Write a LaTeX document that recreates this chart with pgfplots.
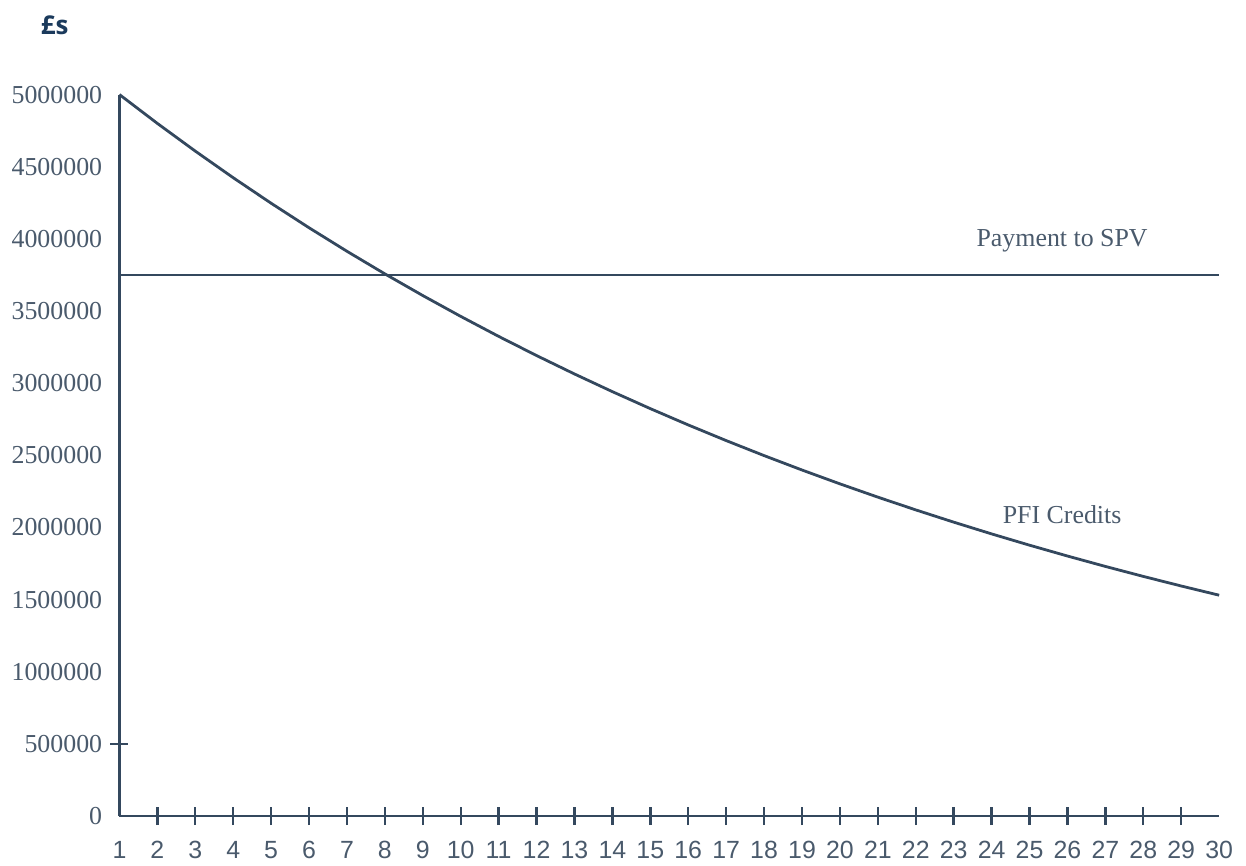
\documentclass[border=0pt]{standalone}
\usepackage{fontspec}
\setmainfont{Liberation Serif}
\newfontfamily\xfont{Liberation Sans}
\newfontfamily\titfont{Open Sans}
\usepackage{pgfplots}
\pgfplotsset{compat=1.18}
\definecolor{linec}{HTML}{34485E}
\definecolor{labc}{HTML}{4A5A6C}
\definecolor{titc}{HTML}{1B3A5C}
\begin{document}
\begin{tikzpicture}
\begin{axis}[
    scale only axis,
    width=552.5pt, height=362.5pt,
    xmin=1, xmax=30, ymin=0, ymax=5000000,
    axis lines=left,
    axis line style={-, draw=linec, line width=1.2pt},
    /pgf/number format/assume math mode=true,
    /pgf/number format/fixed,
    /pgf/number format/1000 sep={},
    scaled y ticks=false,
    xtick={1,...,30},
    ytick={0,500000,...,5000000},
    xtick style={draw=none},
    ytick style={draw=none},
    extra x ticks={2,...,29},
    extra x tick labels={},
    extra x tick style={xtick style={draw=linec, line width=1.2pt}, major tick length=9pt, tick align=center},
    extra y ticks={500000},
    extra y tick labels={},
    extra y tick style={ytick style={draw=linec, line width=1.2pt}, major tick length=9pt, tick align=center},
    x tick label style={font=\xfont\fontsize{12.5}{14}\selectfont, text=labc, anchor=north, yshift=-7pt},
    y tick label style={font=\fontsize{13}{15}\selectfont, text=labc, anchor=east, xshift=-3pt},
    clip=false,
]
% PFI credits, falling each year
\addplot[linec, line width=1.4pt, mark=none] coordinates {
    (1,5000000)(2,4800000)(3,4608000)(4,4423680)(5,4246733)
    (6,4076864)(7,3913789)(8,3757237)(9,3606948)(10,3462670)
    (11,3324163)(12,3191196)(13,3063549)(14,2941007)(15,2823367)
    (16,2710432)(17,2602015)(18,2497934)(19,2398017)(20,2302096)
    (21,2210012)(22,2121612)(23,2036747)(24,1955277)(25,1877066)
    (26,1801983)(27,1729904)(28,1660707)(29,1594279)(30,1530508)
};
% payment to SPV, flat
\addplot[linec, line width=1.4pt, mark=none] coordinates {
    (1,3750000)(30,3750000)
};
\node[text=labc, font=\fontsize{13}{15}\selectfont] at (axis cs:25.86,3986000) {Payment to SPV};
\node[text=labc, font=\fontsize{13}{15}\selectfont] at (axis cs:25.86,2090000) {PFI Credits};
\end{axis}
\node[text=titc, font=\titfont\bfseries\fontsize{13}{15}\selectfont] at (-32.5pt,397.5pt) {£s};
\pgfresetboundingbox
\path (-60pt,-25pt) rectangle (566pt,410pt);
\end{tikzpicture}
\end{document}
